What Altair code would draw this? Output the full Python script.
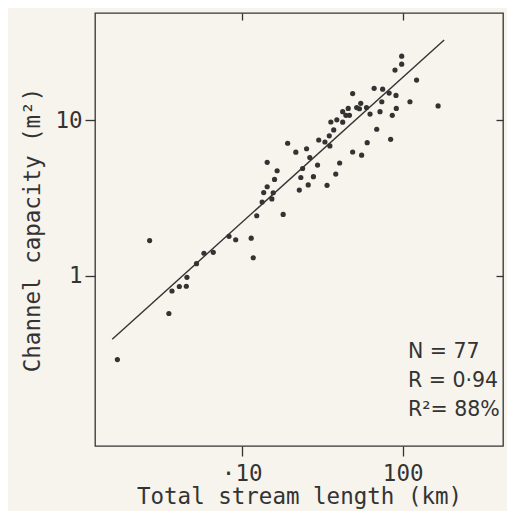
import altair as alt
import pandas as pd

# Total stream length (km) and channel capacity (m^2)
length_km = [1.69, 2.68, 3.53, 3.69, 4.10, 4.53, 4.57, 5.24, 5.83, 6.66,
             8.34, 9.18, 11.46, 11.8, 12.4, 18.1, 13.4, 15.4, 13.7, 15.7,
             14.4, 16.0, 16.6, 14.4, 19.3, 21.7, 25.3, 26.5, 23.9, 29.6,
             40.6, 23.3, 27.9, 22.8, 25.9, 33.9, 38.4, 30.1, 32.9, 35.3,
             35.0, 37.3, 35.8, 39.0, 42.4, 42.4, 45.9, 44.4, 46.7, 51.8,
             53.9, 54.9, 59.6, 62.7, 48.9, 66.5, 75.1, 82.4, 90.9, 74.2,
             72.3, 86.2, 91.3, 111, 98.6, 98.6, 89.6, 122, 166, 48.9,
             55.6, 60.2, 69.0, 84.2]
capacity_m2 = [0.290, 1.69, 0.574, 0.801, 0.856, 0.859, 0.981, 1.20, 1.40, 1.42,
               1.80, 1.71, 1.75, 1.31, 2.44, 2.49, 2.99, 3.13, 3.44, 3.43,
               3.75, 4.18, 4.75, 5.38, 7.14, 6.25, 6.58, 5.78, 4.91, 5.17,
               5.33, 4.30, 4.35, 3.57, 3.85, 3.83, 4.52, 7.49, 7.27, 6.86,
               7.97, 8.69, 9.78, 10.1, 9.75, 11.4, 11.95, 10.8, 10.8, 12.1,
               11.9, 12.9, 12.1, 11.0, 14.9, 16.1, 15.9, 15.0, 14.5, 13.2,
               11.4, 10.8, 11.95, 13.2, 25.9, 23.0, 21.1, 18.2, 12.4, 6.27,
               5.98, 7.20, 8.78, 7.57]

# regression line end points
fit_length_km = [1.57, 181]
fit_capacity_m2 = [0.392, 32.9]

x_ticks = [10, 100]
y_ticks = [1, 10]
stats_lines = ["N = 77", "R = 0·94", "R²= 88%"]

pts = pd.DataFrame({"length": length_km, "capacity": capacity_m2})
fit = pd.DataFrame({"length": fit_length_km, "capacity": fit_capacity_m2})

FONT = "DejaVu Sans Mono"
INK = "#333333"
PAPER = "#f6f4ec"

xscale = alt.Scale(type="log", domain=[1.227, 420])
yscale = alt.Scale(type="log", domain=[0.0807, 49.1])

points = alt.Chart(pts).mark_circle(size=27, color=INK, opacity=1).encode(
    x=alt.X("length:Q", scale=xscale,
            axis=alt.Axis(orient="bottom", values=x_ticks, title="Total stream length (km)",
                          labelExpr="datum.value == 10 ? '·10\u00a0' : format(datum.value, 'd')",
                          tickSize=10, tickWidth=1.3, labelFontSize=22.5, labelPadding=6,
                          titleFontSize=22.5, titlePadding=1, labelFlush=False)),
    y=alt.Y("capacity:Q", scale=yscale,
            axis=alt.Axis(orient="left", values=y_ticks, title="Channel capacity (m²)",
                          labelExpr="format(datum.value, 'd')",
                          tickSize=10, tickWidth=1.3, labelFontSize=22.5, labelPadding=3,
                          titleFontSize=22.5, titlePadding=10, labelFlush=False)),
)

line = alt.Chart(fit).mark_line(color=INK, strokeWidth=1.4).encode(
    x=alt.X("length:Q", scale=xscale,
            axis=alt.Axis(orient="top", values=x_ticks, labels=False, title=None,
                          tickSize=7, tickWidth=1.3, offset=-7)),
    y=alt.Y("capacity:Q", scale=yscale,
            axis=alt.Axis(orient="right", values=y_ticks, labels=False, title=None,
                          tickSize=7, tickWidth=1.3, offset=-7)),
)

stat_layers = []
for i, s in enumerate(stats_lines):
    stat_layers.append(
        alt.Chart(pd.DataFrame({"t": [s]})).mark_text(
            align="left", baseline="alphabetic", font="DejaVu Sans", fontSize=20.5, color=INK
        ).encode(text="t:N", x=alt.value(313), y=alt.value(345 + 29 * i))
    )

chart = alt.layer(points, line, *stat_layers).resolve_axis(
    x="independent", y="independent"
).properties(
    width=408, height=433,
    autosize=alt.AutoSizeParams(type="none"),
    padding={"left": 87, "top": 5, "right": 4, "bottom": 65},
    background=PAPER,
).configure_view(
    stroke=INK, strokeWidth=1.3
).configure_axis(
    labelFont=FONT, titleFont=FONT, labelColor=INK, titleColor=INK, tickColor=INK,
    grid=False, domain=False, titleFontWeight="normal"
)

chart.save("out.html", embed_options={"renderer": "svg", "actions": False})
